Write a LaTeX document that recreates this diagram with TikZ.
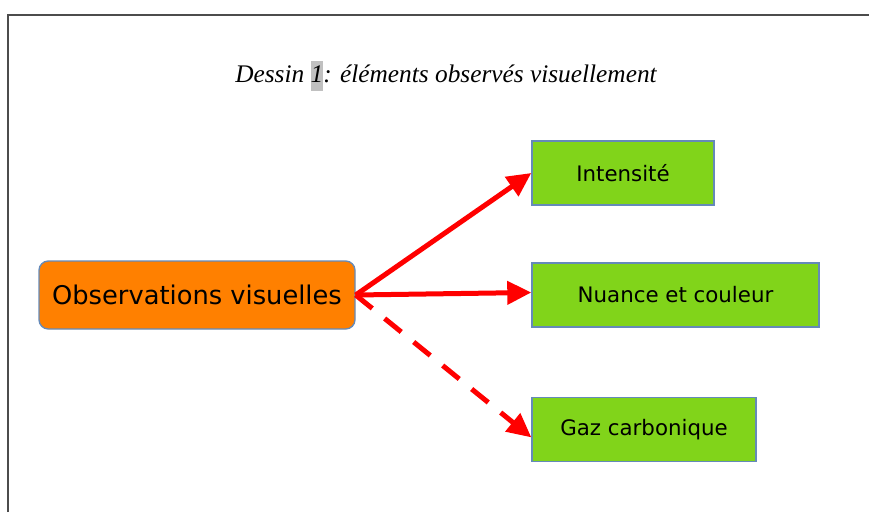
\documentclass[tikz,border=0pt]{standalone}
\usepackage{fontspec}
\setmainfont{Liberation Serif}
\newfontfamily\boxfont{DejaVu Sans}
\usetikzlibrary{arrows.meta}

\definecolor{obsorange}{RGB}{255,128,0}
\definecolor{leafgreen}{RGB}{129,212,26}
\definecolor{boxedge}{RGB}{101,138,185}
\definecolor{hlgray}{RGB}{192,192,192}

\begin{document}
\begin{tikzpicture}[
    x=0.75pt, y=-0.75pt,
    frame/.style = {draw=black!70, line width=1.1pt},
    root/.style = {
      draw=boxedge, line width=1pt, fill=obsorange,
      rounded corners=7pt, inner sep=0pt,
      minimum width=237pt, minimum height=51pt,
      font=\boxfont\fontsize{19.3}{23}\selectfont
    },
    leaf/.style = {
      draw=boxedge, line width=1pt, fill=leafgreen, inner sep=0pt,
      minimum height=48pt,
      font=\boxfont\fontsize{16}{19}\selectfont
    },
    link/.style = {
      draw=red, line width=3.75pt,
      -{Triangle[length=18pt, width=17pt]}
    },
    guess/.style = {link, dash pattern=on 16pt off 12pt}
  ]
  \useasboundingbox (0,0) rectangle (869,512);
  \draw [frame] (8,512) -- (8,15) -- (869,15);

  \node (cap) at (446,76)
    {\fontsize{19}{23}\selectfont\itshape Dessin
     {\fboxsep=0pt\colorbox{hlgray}{\strut 1}}: éléments observés visuellement};

  \node (OBS) [root] at (197,295) {Observations visuelles};

  \node (int) [leaf, minimum width=136.5pt] at (623,173)   {Intensité};
  \node (nua) [leaf, minimum width=215.3pt] at (675.5,295) {Nuance et couleur};
  \node (gaz) [leaf, minimum width=168pt]   at (644,429.5) {Gaz carbonique};

  \draw [link]  (OBS.east) -- (int.west);
  \draw [link]  (OBS.east) -- (nua.179);
  \draw [guess] (OBS.east) -- (gaz.184);
\end{tikzpicture}
\end{document}
